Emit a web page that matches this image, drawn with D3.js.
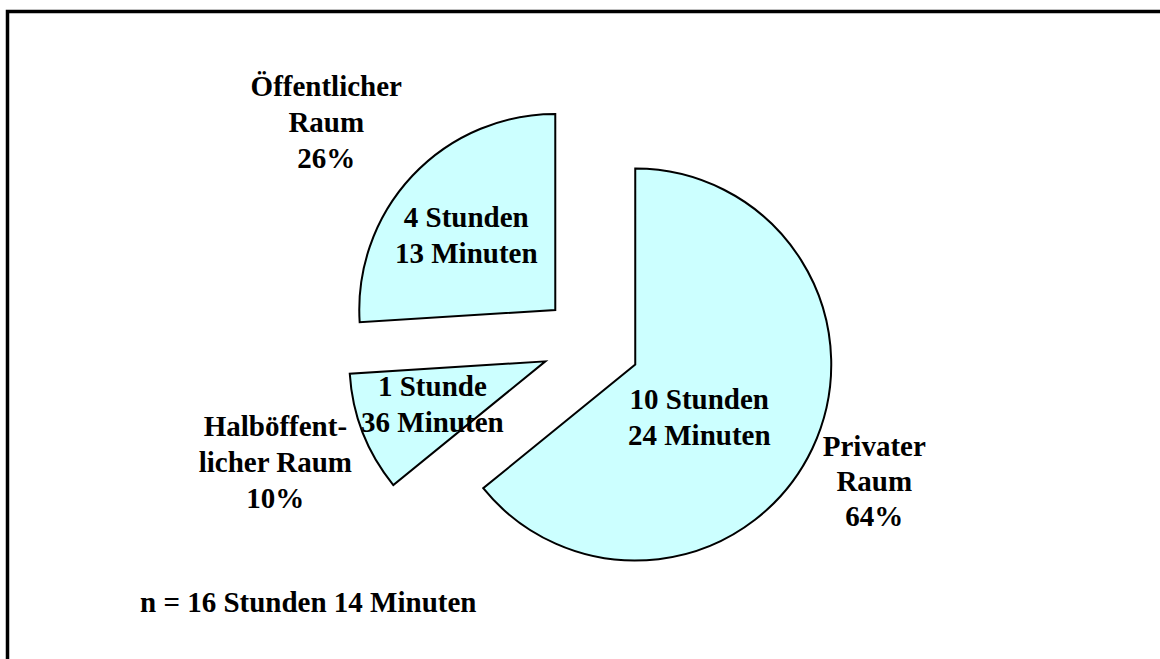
<!DOCTYPE html>
<html>
<head>
<meta charset="utf-8">
<script src="https://cdn.jsdelivr.net/npm/d3@7"></script>
<style>
  html, body { margin: 0; padding: 0; background: #fff; }
  svg text { font-family: "Liberation Serif", "Times New Roman", serif; font-weight: bold; font-size: 29px; fill: #000; }
</style>
</head>
<body>
<svg id="chart" width="1160" height="659"></svg>
<script>
"use strict";

// data
const categories = ["Privater Raum", "Halböffentlicher Raum", "Öffentlicher Raum"];
const minutes = [624, 96, 253];
const innerLabels = [["10 Stunden", "24 Minuten"], ["1 Stunde", "36 Minuten"], ["4 Stunden", "13 Minuten"]];
const outerLabels = [["Privater", "Raum", "64%"], ["Halböffent-", "licher Raum", "10%"], ["Öffentlicher", "Raum", "26%"]];
const totalLabel = "n = 16 Stunden 14 Minuten";

// settings
const setting = {
    center: { x: 591, y: 343.5 },
    radius: 196,
    explode: 49,
    lineHeight: 36,
    fill: "#ccffff",
    // label offsets from each slice's own center (first baseline)
    inner: [{ dx: 64, dy: 44 }, { dx: -113, dy: 35 }, { dx: -89, dy: -83 }],
    outer: [{ dx: 239, dy: 91 }, { dx: -270, dy: 75 }, { dx: -229, dy: -214 }]
};

let chart = d3.select("#chart");

// frame
chart.append("path")
.attr("d", "M7.5,670 L7.5,11.5 L1170,11.5")
.attr("fill", "none")
.attr("stroke", "#000")
.attr("stroke-width", 3.5);

// pie layout
let pie = d3.pie().sort(null).value(d => d);
let arcs = pie(minutes);

let arc = d3.arc()
.innerRadius(0)
.outerRadius(setting.radius);

// slice centers, exploded along bisector
arcs.forEach(a => {
    let mid = (a.startAngle + a.endAngle) / 2;
    a.cx = setting.center.x + setting.explode * Math.sin(mid);
    a.cy = setting.center.y - setting.explode * Math.cos(mid);
});

let slices = chart.selectAll("g.slice")
.data(arcs)
.enter()
.append("g")
.attr("class", "slice")
.attr("data-content", (d, i) => categories[i])
.attr("transform", d => `translate(${d.cx}, ${d.cy})`);

slices.append("path")
.attr("d", arc)
.attr("fill", setting.fill)
.attr("stroke", "#000")
.attr("stroke-width", 2)
.attr("stroke-linejoin", "miter");

// inner labels
slices.each(function(d, i) {
    let t = d3.select(this).append("text")
    .attr("text-anchor", "middle")
    .attr("transform", `translate(${setting.inner[i].dx}, ${setting.inner[i].dy})`);
    t.selectAll("tspan")
    .data(innerLabels[i])
    .enter()
    .append("tspan")
    .attr("x", 0)
    .attr("y", (_, k) => k * setting.lineHeight)
    .text(s => s);
});

// outer labels
slices.each(function(d, i) {
    let t = d3.select(this).append("text")
    .attr("text-anchor", "middle")
    .attr("transform", `translate(${setting.outer[i].dx}, ${setting.outer[i].dy})`);
    t.selectAll("tspan")
    .data(outerLabels[i])
    .enter()
    .append("tspan")
    .attr("x", 0)
    .attr("y", (_, k) => k * (i == 0 ? 35 : setting.lineHeight))
    .text(s => s);
});

// total
chart.append("text")
.attr("x", 140)
.attr("y", 612)
.text(totalLabel);
</script>
</body>
</html>
